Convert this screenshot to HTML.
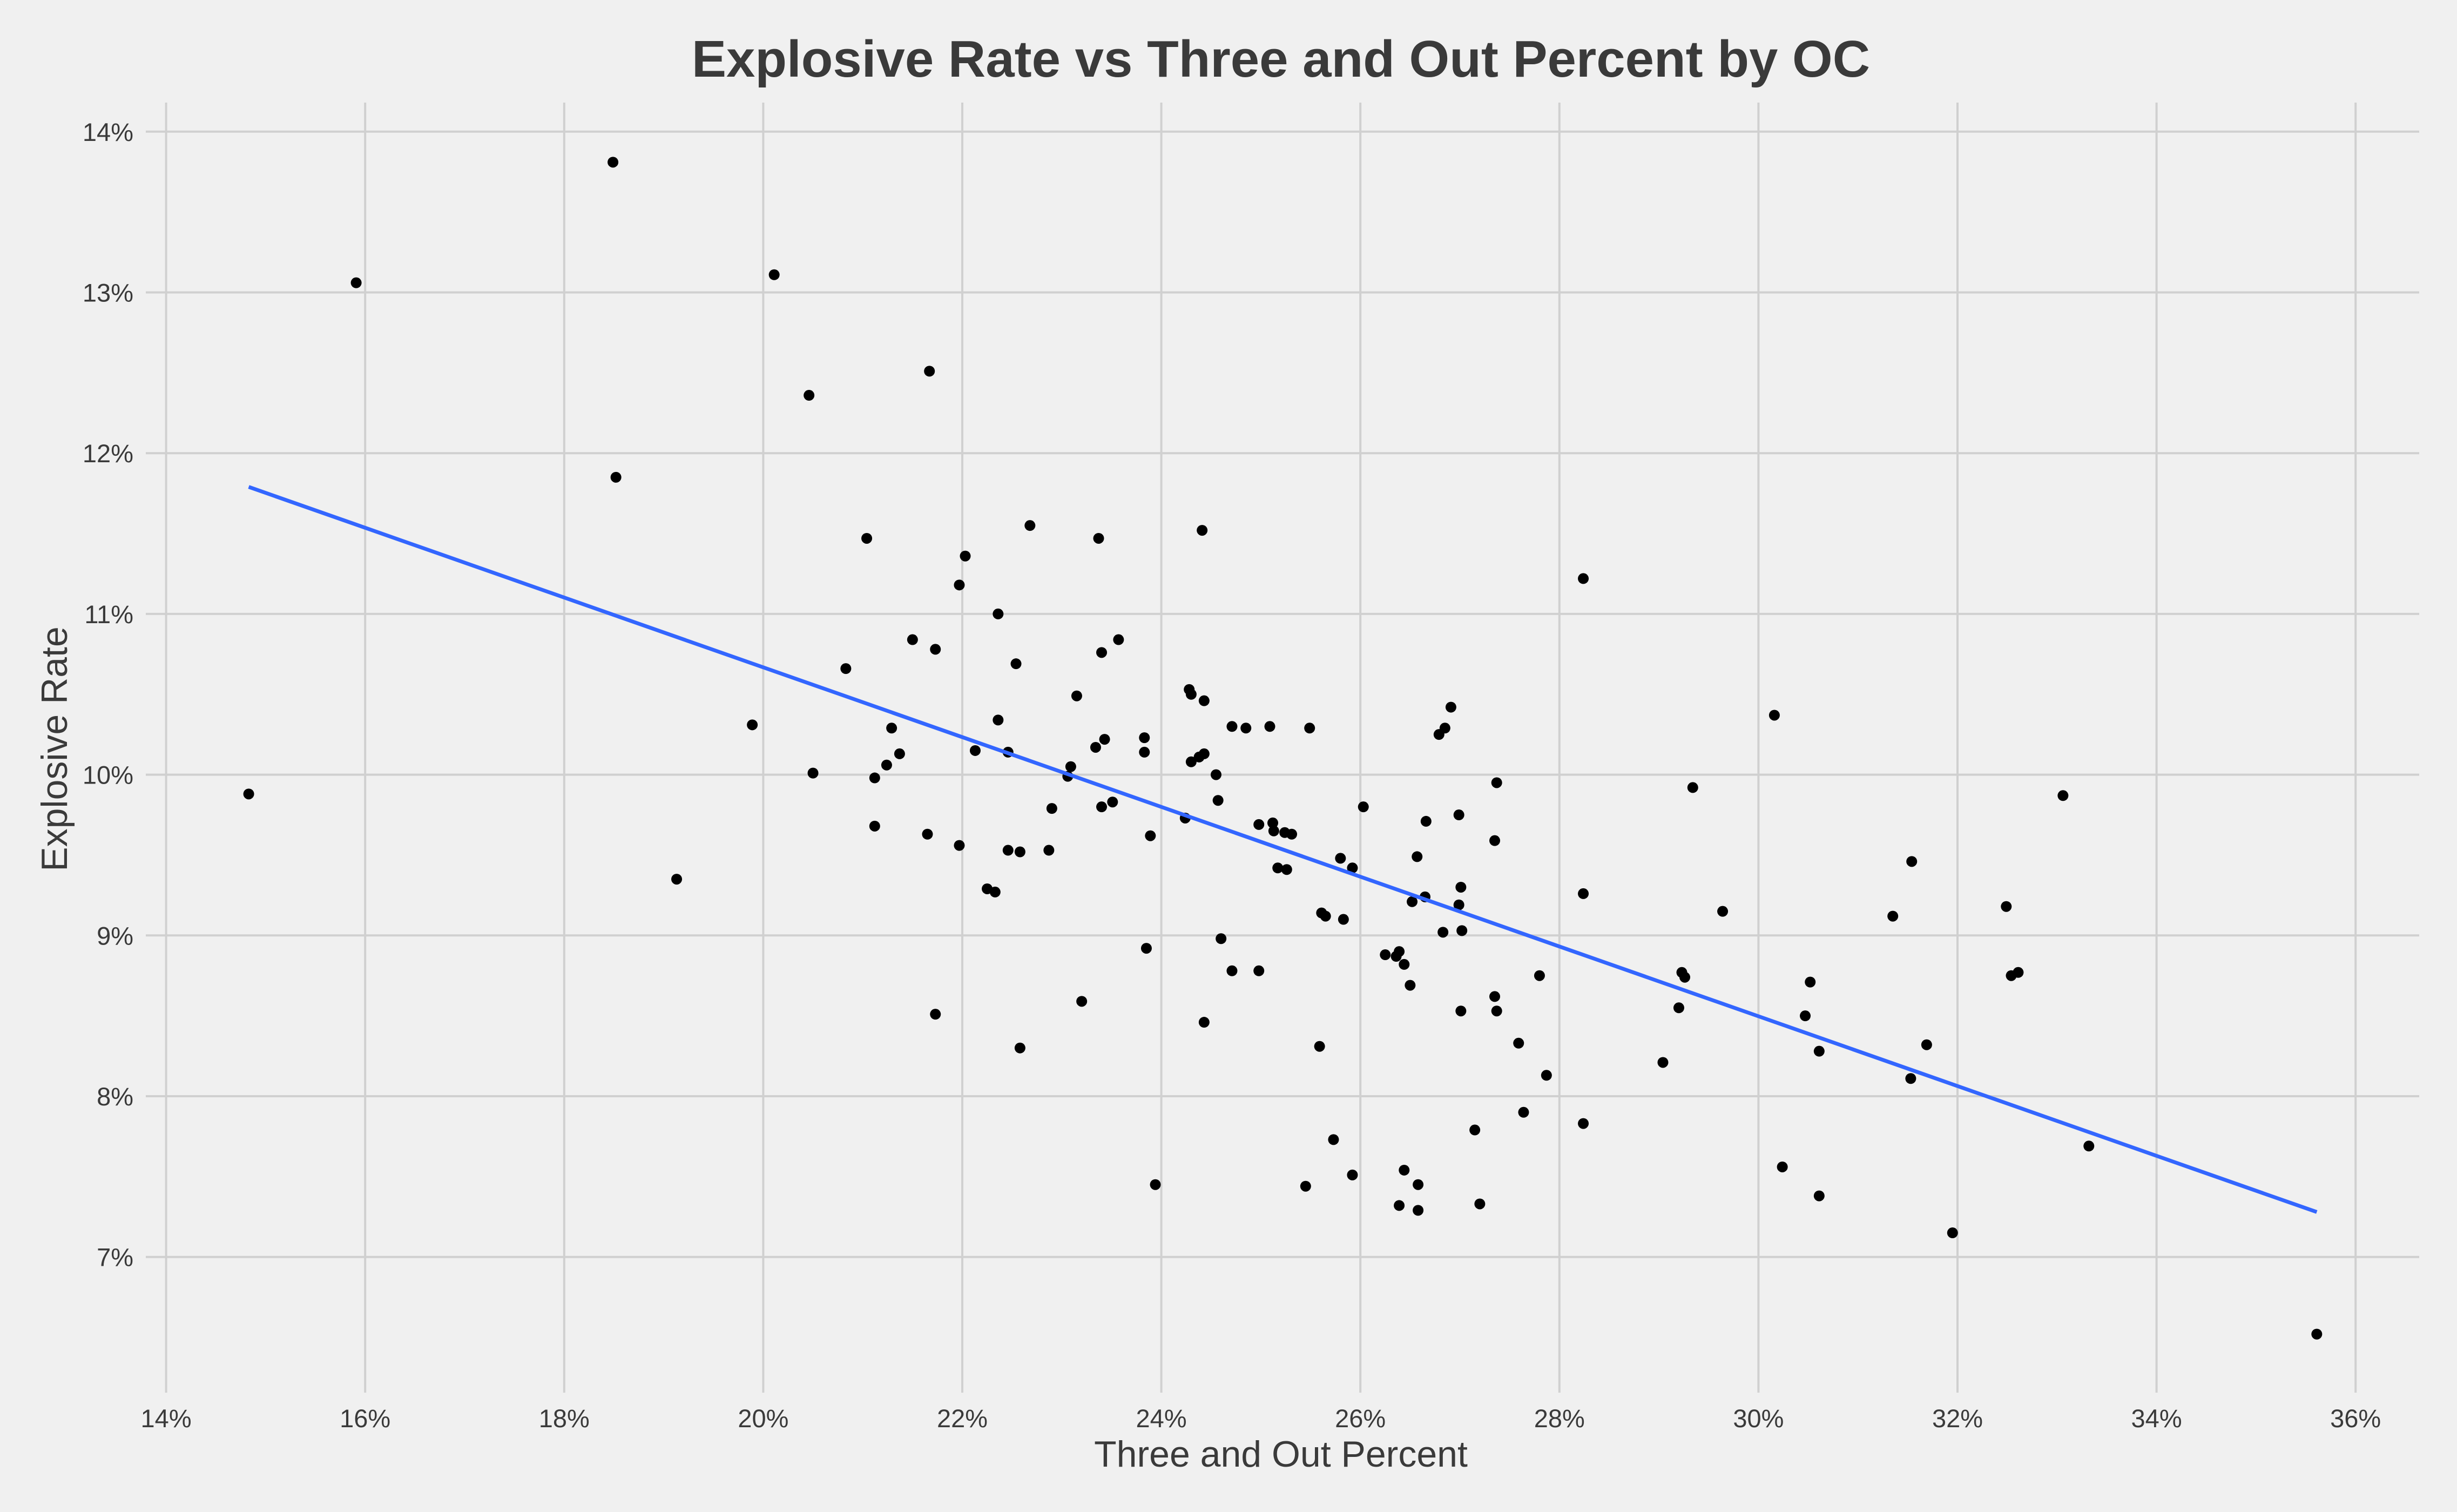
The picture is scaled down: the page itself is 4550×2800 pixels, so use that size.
<!DOCTYPE html>
<html><head><meta charset="utf-8"><style>
html,body{margin:0;padding:0;background:#f0f0f0;}
svg{display:block;font-family:"Liberation Sans",Arial,sans-serif;}
</style></head><body>
<svg id="chart" width="4550" height="2800" viewBox="0 0 4550 2800" xmlns="http://www.w3.org/2000/svg">
<rect width="4550" height="2800" fill="#f0f0f0"/>
<text x="2372" y="142" text-anchor="middle" font-size="96" font-weight="bold" fill="#3a3a3a">Explosive Rate vs Three and Out Percent by OC</text>
<g id="grid"></g>
<g id="xticks"></g>
<g id="yticks"></g>
<g id="points"></g>
<g id="fit"></g>
<text x="2372" y="2716" text-anchor="middle" font-size="68" fill="#3a3a3a">Three and Out Percent</text>
<text transform="translate(124,1387) rotate(-90)" text-anchor="middle" font-size="68" fill="#3a3a3a">Explosive Rate</text>
</svg>
<script>
const xTicks = [14,16,18,20,22,24,26,28,30,32,34,36];
const yTicks = [7,8,9,10,11,12,13,14];
const threeOut = [14.83,15.91,18.49,18.52,19.13,19.89,20.11,20.46,20.50,20.83,21.04,21.12,21.12,21.24,21.29,21.37,21.50,21.65,21.67,21.73,21.73,21.97,21.97,22.03,22.13,22.25,22.33,22.36,22.36,22.46,22.46,22.54,22.58,22.58,22.68,22.87,22.90,23.06,23.09,23.15,23.20,23.34,23.37,23.40,23.40,23.43,23.51,23.57,23.85,23.83,23.83,23.89,23.94,24.24,24.28,24.30,24.30,24.38,24.43,24.41,24.43,24.43,24.55,24.57,24.60,24.71,24.71,24.85,24.98,24.98,25.09,25.12,25.13,25.17,25.24,25.26,25.31,25.49,25.45,25.59,25.61,25.65,25.73,25.80,25.83,25.92,25.92,26.03,26.25,26.36,26.39,26.39,26.44,26.44,26.50,26.52,26.57,26.58,26.58,26.65,26.66,26.79,26.83,26.85,26.91,26.99,27.01,26.99,27.01,27.02,27.15,27.20,27.35,27.37,27.35,27.37,27.59,27.64,27.80,27.87,28.24,28.24,28.24,29.04,29.20,29.23,29.26,29.34,29.64,30.16,30.24,30.47,30.52,30.61,30.61,31.35,31.53,31.54,31.69,31.95,32.49,32.54,32.61,33.06,33.32,35.61];
const explosive = [9.88,13.06,13.81,11.85,9.35,10.31,13.11,12.36,10.01,10.66,11.47,9.98,9.68,10.06,10.29,10.13,10.84,9.63,12.51,10.78,8.51,11.18,9.56,11.36,10.15,9.29,9.27,11.00,10.34,10.14,9.53,10.69,9.52,8.30,11.55,9.53,9.79,9.99,10.05,10.49,8.59,10.17,11.47,10.76,9.80,10.22,9.83,10.84,8.92,10.23,10.14,9.62,7.45,9.73,10.53,10.50,10.08,10.11,10.13,11.52,10.46,8.46,10.00,9.84,8.98,10.30,8.78,10.29,9.69,8.78,10.30,9.70,9.65,9.42,9.64,9.41,9.63,10.29,7.44,8.31,9.14,9.12,7.73,9.48,9.10,9.42,7.51,9.80,8.88,8.87,8.90,7.32,8.82,7.54,8.69,9.21,9.49,7.45,7.29,9.24,9.71,10.25,9.02,10.29,10.42,9.75,9.30,9.19,8.53,9.03,7.79,7.33,9.59,9.95,8.62,8.53,8.33,7.90,8.75,8.13,11.22,9.26,7.83,8.21,8.55,8.77,8.74,9.92,9.15,10.37,7.56,8.50,8.71,8.28,7.38,9.12,8.11,9.46,8.32,7.15,9.18,8.75,8.77,9.87,7.69,6.52];

const NS='http://www.w3.org/2000/svg';
function xs(v){return 307.6 + (v-14)*184.3;}
function ys(v){return 243.8 + (14-v)*297.7;}
function mk(tag,attrs,parent){const e=document.createElementNS(NS,tag);for(const k in attrs)e.setAttribute(k,attrs[k]);parent.appendChild(e);return e;}
const grid=document.getElementById('grid');
xTicks.forEach(t=>{
  const l=mk('line',{x1:xs(t),x2:xs(t),y1:190,y2:2579,stroke:'#d0d0d0','stroke-width':4},grid);
  
  
  const tx=mk('text',{x:xs(t),y:2643,'text-anchor':'middle','font-size':47,fill:'#3a3a3a'},document.getElementById('xticks'));
  tx.textContent=t+'%';
  
  
});
yTicks.forEach(t=>{
  const l=mk('line',{x1:270,x2:4480,y1:ys(t),y2:ys(t),stroke:'#d0d0d0','stroke-width':4},grid);
  
  
  const tx=mk('text',{x:247,y:ys(t)+17,'text-anchor':'end','font-size':47,fill:'#3a3a3a'},document.getElementById('yticks'));
  tx.textContent=t+'%';
  
  
});
const pts=document.getElementById('points');
threeOut.forEach((x,i)=>{
  const c=mk('circle',{cx:xs(x),cy:ys(explosive[i]),r:10,fill:'#000'},pts);
  
  
});
const n=threeOut.length;
let mx=0,my=0;for(let i=0;i<n;i++){mx+=threeOut[i];my+=explosive[i];}mx/=n;my/=n;
let sxy=0,sxx=0;for(let i=0;i<n;i++){sxy+=(threeOut[i]-mx)*(explosive[i]-my);sxx+=(threeOut[i]-mx)**2;}
const b=sxy/sxx,a=my-b*mx;
const x0=Math.min(...threeOut),x1=Math.max(...threeOut);
const ln=mk('line',{x1:xs(x0),y1:ys(a+b*x0),x2:xs(x1),y2:ys(a+b*x1),stroke:'#3366ff','stroke-width':7},document.getElementById('fit'));


</script>
</body></html>
